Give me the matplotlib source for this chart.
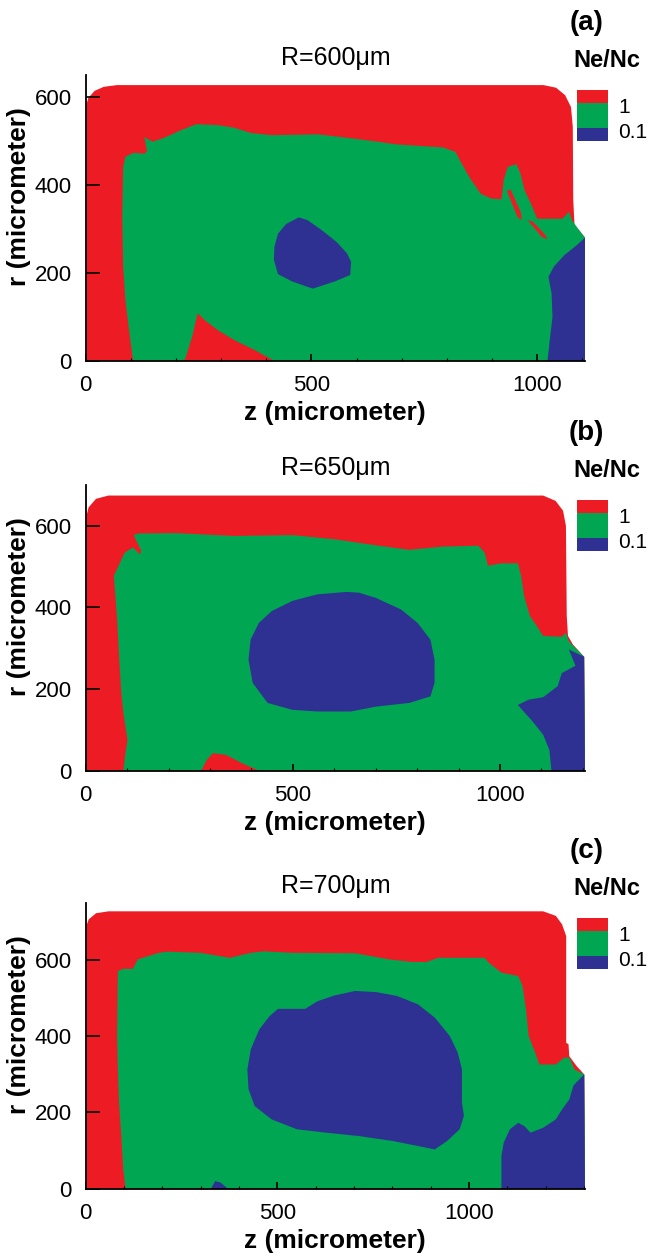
import matplotlib
matplotlib.use("Agg")
import matplotlib.pyplot as plt

plt.rcParams['font.family'] = ['Liberation Sans', 'DejaVu Sans']

RED = '#ED1C24'
GREEN = '#00A651'
BLUE = '#2E3192'

# Ne/Nc contour regions, (z, r) in micrometer

# R = 600 um
a_outer = [(0, 0), (0, 577), (6, 598), (20, 614), (40, 623), (69, 627), (1014, 627),
           (1042, 621), (1062, 604), (1075, 577), (1079, 532), (1080, 365), (1083, 305),
           (1093, 297), (1106, 280), (1106, 0)]
a_green = [(105, 0), (97, 62), (88, 138), (83, 214), (81, 327), (83, 441), (88, 464),
           (106, 473), (130, 471), (136, 477), (130, 509), (148, 498), (176, 508),
           (208, 523), (245, 538), (292, 536), (329, 530), (366, 518), (412, 513),
           (514, 515), (597, 505), (690, 492), (792, 485), (819, 475), (833, 448),
           (852, 414), (875, 380), (898, 369), (921, 367), (926, 411), (935, 441),
           (954, 447), (963, 426), (972, 388), (986, 358), (1000, 323), (1056, 323),
           (1071, 339), (1077, 320), (1093, 297), (1106, 280), (1106, 0), (417, 0),
           (375, 24), (329, 47), (292, 70), (264, 92), (248, 108), (236, 55), (222, 9),
           (218, 0)]
a_red_streaks = [[(933, 386), (941, 390), (964, 337), (966, 320), (957, 326)],
                 [(979, 320), (991, 316), (1018, 286), (1023, 276), (1010, 282)]]
a_blue = [[(472, 326), (491, 320), (523, 297), (556, 270), (579, 244), (588, 225),
           (586, 195), (551, 180), (503, 164), (458, 180), (426, 197), (417, 229),
           (418, 259), (426, 289), (444, 311)],
          [(1106, 280), (1088, 263), (1060, 240), (1037, 214), (1025, 191), (1032, 153),
           (1034, 100), (1028, 47), (1023, 0), (1106, 0)]]

# R = 650 um
b_outer = [(0, 0), (0, 616), (7, 645), (25, 666), (55, 674), (1104, 674), (1134, 661),
           (1152, 637), (1159, 600), (1161, 379), (1164, 330), (1176, 309), (1203, 279),
           (1205, 0)]
b_green = [(91, 0), (96, 43), (101, 75), (91, 141), (86, 190), (81, 272), (76, 370),
           (68, 477), (94, 534), (114, 547), (131, 530), (134, 539), (116, 577),
           (126, 581), (217, 582), (358, 575), (499, 577), (600, 567), (701, 552),
           (781, 541), (862, 549), (948, 551), (963, 534), (971, 502), (1003, 508),
           (1043, 508), (1051, 477), (1058, 428), (1072, 379), (1089, 354), (1104, 330),
           (1149, 328), (1159, 338), (1166, 317), (1203, 279), (1205, 0), (418, 0),
           (378, 18), (338, 39), (307, 43), (292, 26), (279, 0)]
b_red_streaks = []
b_blue = [[(630, 438), (559, 432), (499, 416), (449, 391), (418, 362), (398, 321),
           (393, 272), (403, 215), (439, 166), (499, 149), (559, 145), (640, 145),
           (701, 157), (781, 166), (832, 182), (842, 215), (842, 272), (832, 321),
           (801, 362), (761, 395), (701, 423), (660, 436)],
          [(1203, 279), (1166, 297), (1182, 257), (1149, 239), (1139, 207), (1104, 180),
           (1069, 174), (1043, 161), (1079, 120), (1104, 88), (1119, 51), (1124, 0),
           (1205, 0)]]

# R = 700 um
c_outer = [(0, 0), (0, 685), (8, 707), (27, 723), (60, 728), (1194, 728), (1227, 716),
           (1243, 694), (1254, 663), (1254, 383), (1260, 379), (1262, 348), (1281, 322),
           (1301, 300), (1303, 0)]
c_green = [(104, 0), (98, 51), (93, 138), (87, 226), (84, 313), (82, 401), (84, 571),
           (98, 577), (123, 577), (136, 602), (191, 619), (213, 622), (300, 619),
           (376, 606), (431, 619), (464, 623), (540, 619), (703, 618), (791, 602),
           (851, 595), (889, 595), (921, 606), (1041, 606), (1052, 593), (1085, 567),
           (1129, 558), (1140, 532), (1149, 471), (1156, 401), (1173, 357), (1184, 326),
           (1227, 326), (1249, 344), (1262, 344), (1276, 313), (1301, 300), (1303, 0)]
c_red_streaks = []
c_blue = [[(502, 472), (573, 472), (605, 492), (649, 507), (703, 519), (758, 516),
           (812, 506), (867, 484), (911, 449), (950, 401), (971, 357), (982, 313),
           (982, 226), (987, 191), (976, 156), (943, 125), (911, 103), (867, 112),
           (802, 125), (714, 138), (627, 147), (551, 156), (485, 182), (441, 217),
           (425, 261), (422, 313), (431, 366), (453, 418), (480, 453)],
          [(1301, 300), (1273, 271), (1262, 234), (1243, 208), (1227, 182), (1194, 160),
           (1161, 147), (1145, 164), (1129, 173), (1107, 156), (1091, 121), (1085, 86),
           (1085, 0), (1303, 0)],
          [(327, 0), (338, 20), (352, 16), (371, 0)]]

titles = ['R=600\u03bcm', 'R=650\u03bcm', 'R=700\u03bcm']
tags = ['(a)', '(b)', '(c)']
z_max = [1106, 1205, 1303]
r_max = [650, 700, 750]
r_ticks = [0, 200, 400, 600]
z_ticks = [0, 500, 1000]

legend_labels = ['1', '0.1']
legend_bands = [1, 2, 1]          # red / green / blue band heights
legend_colors = [RED, GREEN, BLUE]

panels = [
    (a_outer, a_green, a_red_streaks, a_blue),
    (b_outer, b_green, b_red_streaks, b_blue),
    (c_outer, c_green, c_red_streaks, c_blue),
]
bottoms = [0.7128, 0.3864, 0.0536]


def fill_poly(ax, pts, color):
    z = [p[0] for p in pts]
    r = [p[1] for p in pts]
    ax.fill(z, r, color=color, lw=0, zorder=1)


fig = plt.figure(figsize=(6.51, 12.56), dpi=100)

for i, (outer, green, streaks, blues) in enumerate(panels):
    ax = fig.add_axes([0.1316, bottoms[i], 0.767, 0.2275])
    fill_poly(ax, outer, RED)
    fill_poly(ax, green, GREEN)
    for s in streaks:
        fill_poly(ax, s, RED)
    for b in blues:
        fill_poly(ax, b, BLUE)

    ax.set_xlim(0, z_max[i])
    ax.set_ylim(0, r_max[i])
    ax.spines['top'].set_visible(False)
    ax.spines['right'].set_visible(False)
    ax.spines['left'].set_linewidth(1.3)
    ax.spines['bottom'].set_linewidth(1.3)
    ax.set_xticks(z_ticks)
    ax.set_xticks(range(100, z_max[i], 100), minor=True)
    ax.set_yticks(r_ticks)
    ax.tick_params(axis='both', which='major', direction='in', labelsize=16,
                   pad=10, width=1.2)
    ax.tick_params(axis='y', which='major', length=10)
    ax.tick_params(axis='x', which='major', length=5)
    ax.tick_params(axis='x', which='minor', direction='in', length=2.5, width=0.8)
    for t in ax.get_xticklines() + ax.get_yticklines():
        t.set_zorder(5)
    ax.set_axisbelow(False)

    ax.set_xlabel('z (micrometer)', fontsize=19, fontweight='bold', labelpad=4)
    ax.set_ylabel('r (micrometer)', fontsize=19, fontweight='bold', va='center')
    ax.yaxis.set_label_coords(-0.134, 0.573)
    ax.set_title(titles[i], fontsize=18, pad=7)

    ax.text(1.0025, 1.182, tags[i], transform=ax.transAxes, fontsize=20,
            fontweight='bold', ha='center', va='center')
    ax.text(1.044, 1.051, 'Ne/Nc', transform=ax.transAxes, fontsize=17,
            fontweight='bold', ha='center', va='center')

    # level legend
    lg = ax.inset_axes([0.984, 0.769, 0.062, 0.1785])
    base = 0
    for h, col in zip(legend_bands[::-1], legend_colors[::-1]):
        lg.bar(0, h, bottom=base, width=1, color=col, lw=0)
        base += h
    lg.set_xlim(-0.5, 0.5)
    lg.set_ylim(0, sum(legend_bands))
    lg.axis('off')
    ax.text(1.066, 0.8845, legend_labels[0], transform=ax.transAxes, fontsize=15,
            ha='left', va='center')
    ax.text(1.066, 0.797, legend_labels[1], transform=ax.transAxes, fontsize=15,
            ha='left', va='center')

fig.savefig('out.png', dpi=100)
